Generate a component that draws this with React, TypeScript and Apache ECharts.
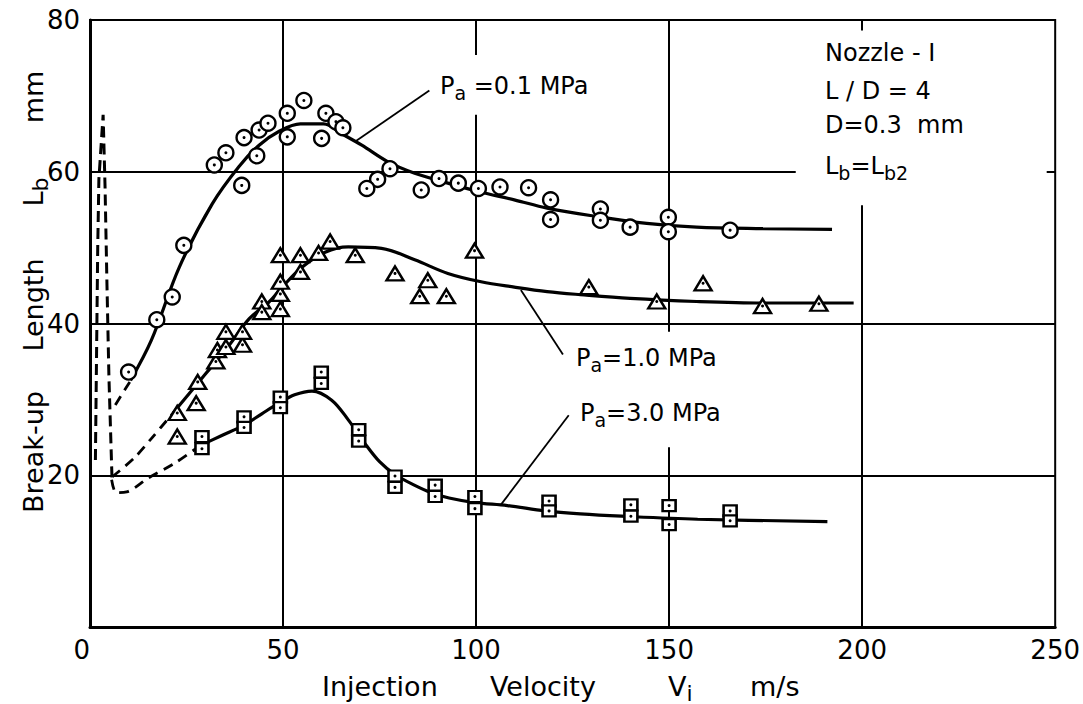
import React, { useEffect, useRef } from 'react';
import * as echarts from 'echarts';

// ---- data ----
const X_TICKS = [0, 50, 100, 150, 200, 250];
const Y_TICKS = [20, 40, 60, 80];

// Pa = 0.1 MPa (circles)
const circlePts: number[][] = [
  [10, 33.6], [17.3, 40.5], [21.3, 43.5], [24.3, 50.3], [32.2, 60.9], [35.2, 62.5],
  [39.3, 58.2], [39.9, 64.5], [43.2, 62.1], [43.8, 65.5], [46.1, 66.4], [51.1, 67.7],
  [51.1, 64.6], [55.4, 69.4], [61.1, 67.7], [63.7, 66.6], [65.5, 65.8], [60.0, 64.4],
  [77.7, 60.4], [74.5, 59.0], [71.7, 57.8], [85.8, 57.6], [90.4, 59.1], [95.4, 58.5],
  [100.6, 57.8], [106.2, 58.0], [113.6, 57.9], [119.3, 56.3], [119.3, 53.7], [132.2, 55.1],
  [132.2, 53.6], [139.9, 52.7], [149.8, 54.0], [149.8, 52.1], [165.8, 52.3],
];
// Pa = 1.0 MPa (triangles)
const trianglePts: number[][] = [
  [22.6, 28.2], [22.6, 25.1], [27.5, 29.5], [27.9, 32.3], [32.6, 35.0], [33.0, 36.5],
  [35.2, 36.9], [35.2, 38.9], [39.5, 37.2], [39.5, 38.9], [44.5, 42.9], [44.5, 41.5],
  [49.3, 41.9], [49.3, 43.9], [49.3, 45.5], [49.3, 49.0], [54.5, 46.8], [54.5, 49.0],
  [59.2, 49.3], [62.2, 50.8], [68.7, 49.0], [79.0, 46.6], [87.5, 45.7], [85.4, 43.6],
  [92.3, 43.6], [99.6, 49.6], [129.2, 44.8], [146.8, 42.9], [158.8, 45.3], [174.2, 42.3],
  [188.8, 42.6],
];
// Pa = 3.0 MPa (squares)
const squarePts: number[][] = [
  [29.0, 25.1], [29.0, 23.5], [39.9, 27.7], [39.9, 26.3], [49.3, 30.3], [49.3, 28.9],
  [59.9, 33.6], [59.9, 32.1], [69.6, 26.0], [69.6, 24.5], [79.0, 19.9], [79.0, 18.4],
  [89.4, 18.7], [89.4, 17.2], [99.7, 17.2], [99.7, 15.6], [118.9, 16.6], [118.9, 15.3],
  [140.1, 16.1], [140.1, 14.6], [150.0, 16.0], [150.0, 13.5], [165.8, 15.3], [165.8, 14.0],
];

// fitted curves (solid)
const circleCurve: number[][] = [
  [10.5, 32.5], [15.9, 37.8], [23.2, 47.5], [31.7, 55.8], [38.6, 60.7], [43.8, 63.5],
  [48.9, 65.3], [54.5, 66.3], [60.5, 66.3], [65.2, 65.0], [70.4, 63.5], [77.2, 61.3],
  [84.1, 59.8], [92.7, 58.5], [101.3, 57.3], [109.9, 56.3], [118.4, 55.2], [131.3, 54.1],
  [144.2, 53.2], [157.1, 52.7], [174.2, 52.5], [192.2, 52.4],
];
const triangleCurve: number[][] = [
  [21.5, 28.2], [30, 33.4], [36, 37.1], [41.2, 40.6], [46.3, 42.8], [49.8, 44.8],
  [54.9, 47.4], [60.9, 49.4], [66.9, 50.1], [75.5, 49.9], [84.1, 48.4], [92.7, 46.6],
  [101.3, 45.5], [109.9, 44.8], [118.4, 44.2], [127, 43.8], [139.9, 43.3], [157.1, 42.9],
  [174.2, 42.7], [197.8, 42.7],
];
const squareCurve: number[][] = [
  [28.5, 23.9], [34, 25.2], [39.9, 26.6], [44.5, 28.1], [48.9, 29.5], [53, 30.6],
  [57.5, 31.1], [62.6, 29.9], [66.9, 27.3], [71.2, 24.2], [75, 21.8], [79, 20.1],
  [84, 18.7], [88.4, 17.7], [93, 17.0], [99.7, 16.4], [108.1, 16.0], [117.9, 15.3],
  [127, 14.9], [137.7, 14.6], [157.4, 14.2], [191, 13.9],
];
// extrapolated (dashed) parts
const circleDashed: number[][] = [[10.3, 32.3], [5.6, 28.5]];
const triangleDashed: number[][] = [[5.8, 19.8], [11.5, 22.3], [16, 24.9], [21.5, 28.2]];
const squareDashed: number[][] = [[5.6, 19.4], [6.8, 17.7], [9.5, 17.8], [15, 19.6], [22.3, 21.7], [28.5, 23.9]];
const spikeDashed: number[][] = [
  [1.4, 22], [1.7, 36], [2.0, 50], [2.3, 59], [3.4, 67.5], [3.9, 58],
  [4.4, 45], [4.9, 33], [5.7, 19.6],
];

// grid line segments (the reference leaves gaps around its labels)
const gridSegments: number[][][] = [
  [[50, 0], [50, 80]],
  [[100, 0], [100, 67.5]], [[100, 75.4], [100, 80]],
  [[150, 0], [150, 23.7]], [[150, 38.9], [150, 80]],
  [[200, 0], [200, 55.6]], [[200, 78.6], [200, 80]],
  [[0, 20], [250, 20]], [[0, 40], [250, 40]],
  [[0, 60], [182.8, 60]], [[247.8, 60], [250, 60]],
];
// leader lines from labels to curves
const leaderLines: number[][][] = [
  [[87.9, 70.7], [68.7, 64.0]],
  [[111.6, 44.4], [122.5, 35.9]],
  [[106.4, 16.1], [124.0, 27.9]],
];

const FONT = "'DejaVu Sans', sans-serif";
const INK = '#000';

export default function App() {
  const ref = useRef<HTMLDivElement>(null);
  useEffect(() => {
    const chart = echarts.init(ref.current!, null, { renderer: 'svg' });
    const mkRich = (size: number) => ({
      p: { fontSize: size, fontFamily: FONT, color: INK },
      s: { fontSize: Math.round(size * 0.8), fontFamily: FONT, color: INK, padding: [14, 0, 0, 0] },
    });
    const txt = (x: number, y: number, text: string, size = 24) => ({
      type: 'text', x, y,
      style: { text, font: `${size}px ${FONT}`, fill: INK, verticalAlign: 'middle', rich: mkRich(size) },
    });
    const rot = (x: number, y: number, text: string) => ({
      type: 'text', x, y, rotation: Math.PI / 2,
      style: { text, font: `27px ${FONT}`, fill: INK, align: 'center', verticalAlign: 'middle', rich: mkRich(27) },
    });
    const markerStyle = { color: '#fff', borderColor: INK, borderWidth: 2.4, opacity: 1 };
    const dots = (data: number[][]) => ({
      type: 'scatter', data, symbol: 'circle', symbolSize: 3, itemStyle: { color: INK, opacity: 1 }, z: 6, silent: true,
    });
    const option: any = {
      animation: false,
      backgroundColor: '#fff',
      grid: { left: 90, right: 22, top: 20, bottom: 77, show: true, borderColor: INK, borderWidth: 2 },
      xAxis: {
        type: 'value', min: 0, max: 250, interval: 50,
        axisLine: { show: true, lineStyle: { color: INK, width: 3 } },
        axisTick: { show: false }, splitLine: { show: false },
        axisLabel: {
          color: INK, fontSize: 26, fontFamily: FONT, margin: 10, alignMinLabel: 'right',
          formatter: (v: number) => (X_TICKS.includes(v) ? String(v) : ''),
        },
      },
      yAxis: {
        type: 'value', min: 0, max: 80, interval: 20,
        axisLine: { show: true, lineStyle: { color: INK, width: 3 } },
        axisTick: { show: false }, splitLine: { show: false },
        axisLabel: {
          color: INK, fontSize: 26, fontFamily: FONT, margin: 10,
          formatter: (v: number) => (Y_TICKS.includes(v) ? String(v) : ''),
        },
      },
      series: [
        {
          type: 'lines', coordinateSystem: 'cartesian2d', silent: true, z: 1,
          lineStyle: { color: INK, width: 2, opacity: 1 },
          data: gridSegments.map((c) => ({ coords: c })),
        },
        {
          type: 'lines', coordinateSystem: 'cartesian2d', silent: true, z: 2,
          lineStyle: { color: INK, width: 1.8, opacity: 1 },
          data: leaderLines.map((c) => ({ coords: c })),
        },
        ...[circleCurve, triangleCurve, squareCurve].map((d) => ({
          type: 'line', data: d, smooth: 0.35, showSymbol: false, symbol: 'none', z: 3,
          lineStyle: { color: INK, width: 3.2 },
        })),
        ...[circleDashed, triangleDashed, squareDashed].map((d) => ({
          type: 'line', data: d, smooth: 0.3, showSymbol: false, symbol: 'none', z: 3,
          lineStyle: { color: INK, width: 2.8, type: [10, 7] },
        })),
        {
          type: 'line', data: spikeDashed, smooth: false, showSymbol: false, symbol: 'none', z: 3,
          lineStyle: { color: INK, width: 3, type: [11, 6] },
        },
        { type: 'scatter', data: circlePts, symbol: 'circle', symbolSize: 15, itemStyle: markerStyle, z: 5 },
        { type: 'scatter', data: trianglePts, symbol: 'triangle', symbolSize: [17, 14], itemStyle: markerStyle, z: 5 },
        { type: 'scatter', data: squarePts, symbol: 'rect', symbolSize: [13, 11], itemStyle: markerStyle, z: 5 },
        dots(circlePts), dots(trianglePts), dots(squarePts),
      ],
      graphic: [
        txt(440, 86, '{p|P}{s|a}{p| =0.1 MPa}'),
        txt(576, 358, '{p|P}{s|a}{p|=1.0 MPa}'),
        txt(580, 413, '{p|P}{s|a}{p|=3.0 MPa}'),
        txt(825, 53, 'Nozzle - I'),
        txt(825, 91, 'L / D = 4'),
        txt(825, 125, 'D=0.3  mm'),
        txt(825, 166, '{p|L}{s|b}{p|=L}{s|b2}'),
        txt(322, 686, 'Injection', 27),
        txt(490, 686, 'Velocity', 27),
        txt(668, 686, '{p|V}{s|i}', 27),
        txt(750, 686, 'm/s', 27),
        rot(33, 452, 'Break-up'),
        rot(33, 305, 'Length'),
        rot(33, 192, '{p|L}{s|b}'),
        rot(33, 97, 'mm'),
      ],
    };
    chart.setOption(option);
    return () => chart.dispose();
  }, []);
  return (
    <div
      ref={ref}
      style={{ position: 'fixed', left: 0, top: 0, width: 1083, height: 704, background: '#fff' }}
    />
  );
}
